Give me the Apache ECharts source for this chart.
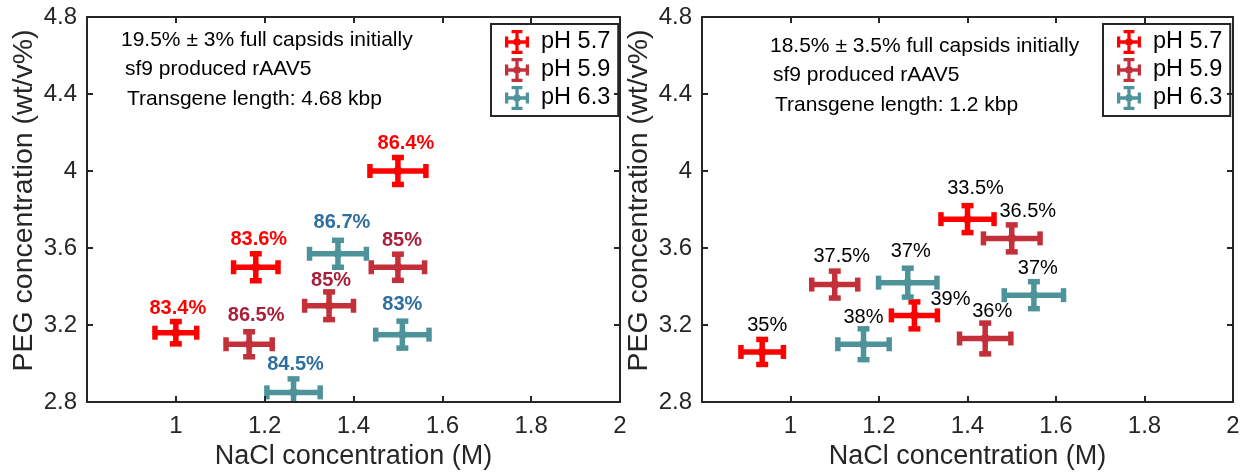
<!DOCTYPE html>
<html>
<head>
<meta charset="utf-8">
<script src="https://cdn.jsdelivr.net/npm/echarts@6/dist/echarts.min.js"></script>
<style>
  html, body { margin: 0; padding: 0; background: #fff; }
  #chart { width: 1249px; height: 472px; }
</style>
</head>
<body>
<div id="chart"></div>
<script>
// each point: [NaCl (M), PEG (wt/v%), NaCl error, PEG error]
var leftPh57 = [[1.00, 3.16, 0.047, 0.058], [1.18, 3.50, 0.05, 0.07], [1.50, 4.00, 0.063, 0.07]];
var leftPh59 = [[1.165, 3.10, 0.052, 0.065], [1.345, 3.30, 0.055, 0.072], [1.50, 3.50, 0.06, 0.068]];
var leftPh63 = [[1.265, 2.85, 0.06, 0.07], [1.365, 3.57, 0.064, 0.07], [1.51, 3.15, 0.06, 0.07]];
var rightPh57 = [[0.936, 3.06, 0.048, 0.065], [1.28, 3.25, 0.052, 0.07], [1.40, 3.75, 0.06, 0.07]];
var rightPh59 = [[1.10, 3.41, 0.052, 0.07], [1.44, 3.13, 0.058, 0.08], [1.50, 3.65, 0.064, 0.07]];
var rightPh63 = [[1.165, 3.10, 0.058, 0.08], [1.265, 3.42, 0.066, 0.075], [1.55, 3.355, 0.067, 0.07]];

// full capsid percentage after separation
var leftLabels57 = ['83.4%', '83.6%', '86.4%'];
var leftLabels59 = ['86.5%', '85%', '85%'];
var leftLabels63 = ['84.5%', '86.7%', '83%'];
var rightLabels57 = ['35%', '39%', '33.5%'];
var rightLabels59 = ['37.5%', '36%', '36.5%'];
var rightLabels63 = ['38%', '37%', '37%'];

var legendNames = ['pH 5.7', 'pH 5.9', 'pH 6.3'];
var leftNotes = ['19.5% \u00b1 3% full capsids initially', 'sf9 produced rAAV5', 'Transgene length: 4.68 kbp'];
var rightNotes = ['18.5% \u00b1 3.5% full capsids initially', 'sf9 produced rAAV5', 'Transgene length: 1.2 kbp'];

var FONT = 'Liberation Sans, Arial, sans-serif';
var AXIS_COLOR = '#262626';
var colors = ['#ff0000', '#c3303a', '#4f939a'];
var leftLabelColors = ['#ff0000', '#a8203a', '#2f6f9f'];

// label nudges [dx, gap above top cap], same order as the points
var leftNudge = [[[2, 0], [3, 2], [8, 1]], [[7, 4], [2, -1], [4, 1]], [[2, 2], [4, 5], [0, 4]]];
var rightNudge = [[[5, 1], [36, -10], [8, 4]], [[7, 2], [7, -1], [16, 1]], [[0, -1], [3, 4], [4, 0]]];

var crossIcon = 'path://M10.5 2H13.5V22H10.5Z M7 1H17V4H7Z M7 20H17V23H7Z M2 10.5H22V13.5H2Z ' +
  'M1 7H4V17H1Z M20 7H23V17H20Z M8.5 12A3.5 3.5 0 1 1 15.5 12A3.5 3.5 0 1 1 8.5 12Z';

function errorSeries(name, points, labels, nudge, panel, color, labelColor, bold) {
  return {
    type: 'custom',
    name: name,
    xAxisIndex: panel * 2,
    yAxisIndex: panel * 2,
    clip: true,
    itemStyle: { color: color },
    data: points,
    renderItem: function (params, api) {
      var x = api.value(0), y = api.value(1), xe = api.value(2), ye = api.value(3);
      var c = api.coord([x, y]);
      var l = api.coord([x - xe, y]);
      var r = api.coord([x + xe, y]);
      var t = api.coord([x, y + ye]);
      var b = api.coord([x, y - ye]);
      var cap = 7;
      var st = { stroke: color, lineWidth: 5.5 };
      var nd = nudge[params.dataIndex];
      function seg(x1, y1, x2, y2) {
        return { type: 'line', shape: { x1: x1, y1: y1, x2: x2, y2: y2 }, style: st };
      }
      return {
        type: 'group',
        children: [
          seg(l[0], c[1], r[0], c[1]),
          seg(c[0], t[1], c[0], b[1]),
          seg(l[0], c[1] - cap, l[0], c[1] + cap),
          seg(r[0], c[1] - cap, r[0], c[1] + cap),
          seg(c[0] - cap + 1, t[1], c[0] + cap - 1, t[1]),
          seg(c[0] - cap + 1, b[1], c[0] + cap - 1, b[1]),
          { type: 'circle', shape: { cx: c[0], cy: c[1], r: 4.5 }, style: { fill: color } },
          {
            type: 'text',
            x: c[0] + nd[0],
            y: t[1] - 2.75 - nd[1],
            style: {
              text: labels[params.dataIndex],
              fill: labelColor,
              fontFamily: FONT,
              fontSize: 20,
              fontWeight: bold ? 'bold' : 'normal',
              align: 'center',
              verticalAlign: 'bottom'
            }
          }
        ]
      };
    }
  };
}

function xAxisFor(grid, top) {
  return {
    type: 'value', gridIndex: grid, position: top ? 'top' : 'bottom',
    min: 0.8, max: 2, interval: 0.2, z: 10,
    name: top ? '' : 'NaCl concentration (M)',
    nameLocation: 'middle', nameGap: 35,
    nameTextStyle: { fontFamily: FONT, fontSize: 27, color: AXIS_COLOR },
    axisLine: { show: true, onZero: false, lineStyle: { color: AXIS_COLOR, width: 2 } },
    axisTick: { show: true, inside: true, length: 6, lineStyle: { color: AXIS_COLOR, width: 2 } },
    splitLine: { show: false },
    axisLabel: {
      show: !top, margin: 12, fontFamily: FONT, fontSize: 24, color: AXIS_COLOR,
      formatter: function (v) { return v < 0.9 ? '' : String(Math.round(v * 10) / 10); }
    }
  };
}

function yAxisFor(grid, right) {
  return {
    type: 'value', gridIndex: grid, position: right ? 'right' : 'left',
    min: 2.8, max: 4.8, interval: 0.4, z: 10,
    name: right ? '' : 'PEG concentration (wt/v%)',
    nameLocation: 'middle', nameGap: 48,
    nameTextStyle: { fontFamily: FONT, fontSize: 28.5, color: AXIS_COLOR, padding: [0, 0, 0, 18] },
    axisLine: { show: true, onZero: false, lineStyle: { color: AXIS_COLOR, width: 2 } },
    axisTick: { show: true, inside: true, length: 6, lineStyle: { color: AXIS_COLOR, width: 2 } },
    splitLine: { show: false },
    axisLabel: {
      show: !right, margin: 10, fontFamily: FONT, fontSize: 24, color: AXIS_COLOR,
      formatter: function (v) { return String(Math.round(v * 10) / 10); }
    }
  };
}

function legendFor(left) {
  return {
    orient: 'vertical', left: left, top: 24,
    padding: [6, 8, 6, 14], itemGap: 4, itemWidth: 24, itemHeight: 24,
    borderColor: AXIS_COLOR, borderWidth: 2, borderRadius: 0,
    backgroundColor: '#fff',
    textStyle: { fontFamily: FONT, fontSize: 23.5, color: '#000', padding: [0, 0, 0, 7] },
    data: legendNames.map(function (n) { return { name: n, icon: crossIcon }; })
  };
}

function notes(lines, x, y0) {
  return lines.map(function (s, i) {
    return {
      type: 'text', x: x[i], y: y0 + i * 29.5,
      style: { text: s, fontFamily: FONT, fontSize: 21, fill: '#000', verticalAlign: 'middle' }
    };
  });
}

var myChart = echarts.init(document.getElementById('chart'), null, { renderer: 'canvas' });

var option = {
  animation: false,
  backgroundColor: '#fff',
  grid: [
    { left: 87, top: 17, width: 533, height: 385, outerBoundsMode: 'none' },
    { left: 702, top: 17, width: 531, height: 385, outerBoundsMode: 'none' }
  ],
  xAxis: [xAxisFor(0, false), xAxisFor(0, true), xAxisFor(1, false), xAxisFor(1, true)],
  yAxis: [yAxisFor(0, false), yAxisFor(0, true), yAxisFor(1, false), yAxisFor(1, true)],
  legend: [legendFor(491), legendFor(1103)],
  graphic: notes(leftNotes, [121, 125, 127], 40).concat(notes(rightNotes, [770, 773, 775], 46)),
  series: [
    errorSeries(legendNames[0], leftPh57, leftLabels57, leftNudge[0], 0, colors[0], leftLabelColors[0], true),
    errorSeries(legendNames[1], leftPh59, leftLabels59, leftNudge[1], 0, colors[1], leftLabelColors[1], true),
    errorSeries(legendNames[2], leftPh63, leftLabels63, leftNudge[2], 0, colors[2], leftLabelColors[2], true),
    errorSeries(legendNames[0], rightPh57, rightLabels57, rightNudge[0], 1, colors[0], '#000', false),
    errorSeries(legendNames[1], rightPh59, rightLabels59, rightNudge[1], 1, colors[1], '#000', false),
    errorSeries(legendNames[2], rightPh63, rightLabels63, rightNudge[2], 1, colors[2], '#000', false)
  ]
};

myChart.setOption(option);
window.addEventListener('resize', myChart.resize);
</script>
</body>
</html>
